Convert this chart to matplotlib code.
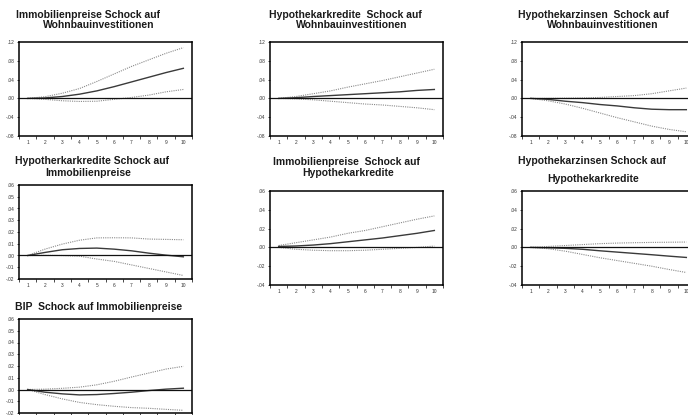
import matplotlib
matplotlib.use("Agg")
import matplotlib.pyplot as plt
import numpy as np
from matplotlib import rcParams

rcParams.update({
    "font.family": ["Liberation Sans", "DejaVu Sans"],
})

periods = np.arange(1, 11)

# impulse responses: (lower band, response, upper band)
immo_wohn_mid = [0.0, 0.001, 0.004, 0.009, 0.016, 0.025, 0.035, 0.045, 0.055, 0.064]
immo_wohn_up = [0.0, 0.0036, 0.011, 0.021, 0.036, 0.052, 0.068, 0.082, 0.096, 0.108]
immo_wohn_lo = [0.0, -0.002, -0.005, -0.0065, -0.006, -0.002, 0.002, 0.007, 0.014, 0.019]

kred_wohn_mid = [0.0, 0.0015, 0.004, 0.006, 0.008, 0.010, 0.012, 0.014, 0.017, 0.019]
kred_wohn_up = [0.0, 0.004, 0.010, 0.016, 0.024, 0.031, 0.038, 0.046, 0.054, 0.062]
kred_wohn_lo = [0.0, -0.001, -0.003, -0.006, -0.009, -0.012, -0.014, -0.017, -0.020, -0.024]

zins_wohn_mid = [0.0, -0.002, -0.006, -0.009, -0.013, -0.016, -0.020, -0.023, -0.024, -0.024]
zins_wohn_up = [0.0, 0.0, 0.0005, 0.001, 0.002, 0.004, 0.006, 0.010, 0.016, 0.022]
zins_wohn_lo = [0.0, -0.005, -0.012, -0.021, -0.031, -0.041, -0.050, -0.059, -0.066, -0.071]

kred_immo_mid = [0.0, 0.0026, 0.0049, 0.006, 0.0063, 0.0054, 0.004, 0.002, 0.0003, -0.0011]
kred_immo_up = [0.0, 0.0054, 0.0097, 0.013, 0.015, 0.0151, 0.015, 0.014, 0.0137, 0.0134]
kred_immo_lo = [0.0, 0.0001, 0.0, -0.0006, -0.003, -0.005, -0.008, -0.011, -0.014, -0.017]

immo_kred_mid = [0.001, 0.0015, 0.0025, 0.004, 0.006, 0.008, 0.010, 0.0125, 0.015, 0.018]
immo_kred_up = [0.002, 0.005, 0.008, 0.011, 0.015, 0.018, 0.022, 0.026, 0.030, 0.0335]
immo_kred_lo = [0.0, -0.002, -0.003, -0.0035, -0.0035, -0.003, -0.002, -0.001, 0.0, 0.0014]

zins_kred_mid = [0.0, -0.0004, -0.001, -0.002, -0.0036, -0.005, -0.0064, -0.0078, -0.0093, -0.0107]
zins_kred_up = [0.0, 0.001, 0.002, 0.003, 0.004, 0.0046, 0.005, 0.0053, 0.0055, 0.0057]
zins_kred_lo = [0.0, -0.0014, -0.004, -0.0075, -0.011, -0.014, -0.017, -0.020, -0.0235, -0.0267]

bip_immo_mid = [0.0, -0.0023, -0.0037, -0.0046, -0.0043, -0.0034, -0.0023, -0.0009, 0.0003, 0.0011]
bip_immo_up = [0.0, 0.0003, 0.001, 0.002, 0.004, 0.007, 0.0106, 0.014, 0.0174, 0.0197]
bip_immo_lo = [0.0, -0.0043, -0.008, -0.011, -0.0129, -0.0143, -0.0154, -0.016, -0.0169, -0.0177]

ticks_a = [-0.08, -0.04, 0.0, 0.04, 0.08, 0.12]
labels_a = ["-.08", "-.04", ".00", ".04", ".08", ".12"]
ticks_b = [-0.02, -0.01, 0.0, 0.01, 0.02, 0.03, 0.04, 0.05, 0.06]
labels_b = ["-.02", "-.01", ".00", ".01", ".02", ".03", ".04", ".05", ".06"]
ticks_c = [-0.04, -0.02, 0.0, 0.02, 0.04, 0.06]
labels_c = ["-.04", "-.02", ".00", ".02", ".04", ".06"]

W, H = 688.0, 415.0
fig = plt.figure(figsize=(6.88, 4.15), dpi=100)


def panel(left, top, mid, up, lo, ticks, labels, titles):
    # left/top in pixels, axes 173 x 94 px
    ax = fig.add_axes([left / W, 1 - (top + 94) / H, 173 / W, 94 / H])
    ax.plot(periods, up, color="#8a8a8a", lw=0.8, ls=(0, (1, 1)))
    ax.plot(periods, lo, color="#8a8a8a", lw=0.8, ls=(0, (1, 1)))
    ax.plot(periods, mid, color="#3a3a3a", lw=1.0)
    ax.axhline(0, color="#111111", lw=0.9)
    ax.set_xlim(0.5, 10.5)
    ax.set_ylim(ticks[0], ticks[-1])
    ax.set_yticks(ticks)
    ax.set_yticklabels(labels)
    ax.set_xticks(periods)
    ax.set_xticklabels([str(p) for p in periods])
    ax.set_xticks(np.arange(0.5, 11, 1), minor=True)
    ax.tick_params(axis="x", which="major", length=0, pad=3, labelsize=3.5, labelcolor="#333333")
    ax.tick_params(axis="x", which="minor", length=1.8, width=0.5, direction="out")
    ax.tick_params(axis="y", length=1.8, width=0.5, pad=1.5, labelsize=3.5, labelcolor="#333333")
    for sp in ax.spines.values():
        sp.set_linewidth(1.1)
    for x, y, txt in titles:
        fig.text(x / W, 1 - y / H, txt, ha="left", va="center",
                 fontsize=7.5, fontweight="bold", color="#1a1a1a")
    return ax


panel(19, 42, immo_wohn_mid, immo_wohn_up, immo_wohn_lo, ticks_a, labels_a,
      [(16, 15, "Immobilienpreise Schock auf"), (43, 25, "Wohnbauinvestitionen")])
panel(270, 42, kred_wohn_mid, kred_wohn_up, kred_wohn_lo, ticks_a, labels_a,
      [(269, 15, "Hypothekarkredite  Schock auf"), (296, 25, "Wohnbauinvestitionen")])
panel(522, 42, zins_wohn_mid, zins_wohn_up, zins_wohn_lo, ticks_a, labels_a,
      [(518, 15, "Hypothekarzinsen  Schock auf"), (547, 25, "Wohnbauinvestitionen")])

panel(19, 185, kred_immo_mid, kred_immo_up, kred_immo_lo, ticks_b, labels_b,
      [(15, 161, "Hypotherkarkredite Schock auf"), (45, 173, "Immobilienpreise")])
panel(270, 191, immo_kred_mid, immo_kred_up, immo_kred_lo, ticks_c, labels_c,
      [(273, 162, "Immobilienpreise  Schock auf"), (302, 173, "Hypothekarkredite")])
panel(522, 191, zins_kred_mid, zins_kred_up, zins_kred_lo, ticks_c, labels_c,
      [(518, 161, "Hypothekarzinsen Schock auf"), (547, 179, "Hypothekarkredite")])

panel(19, 319, bip_immo_mid, bip_immo_up, bip_immo_lo, ticks_b, labels_b,
      [(15, 307, "BIP  Schock auf Immobilienpreise")])

fig.savefig("out.png", dpi=100)
